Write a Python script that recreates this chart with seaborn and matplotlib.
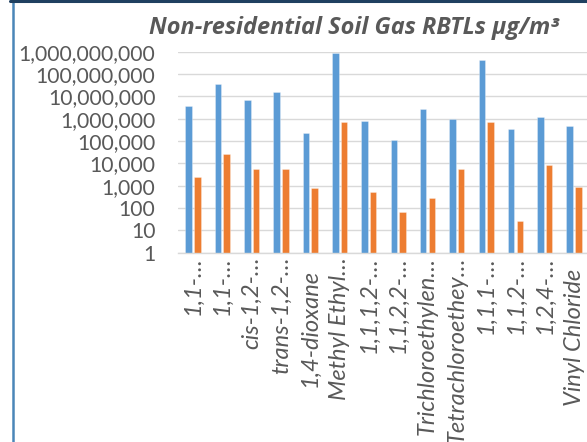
import numpy as np
import pandas as pd
import matplotlib
matplotlib.use("Agg")
import matplotlib.pyplot as plt
from matplotlib.ticker import FuncFormatter, FixedLocator, NullLocator
from matplotlib.lines import Line2D
from matplotlib.transforms import offset_copy
import seaborn as sns

# Chemical labels as shown on the category axis (long names are clipped with an ellipsis)
chemicals = [
    "1,1-…", "1,1-…", "cis-1,2-…", "trans-1,2-…", "1,4-dioxane",
    "Methyl Ethyl…", "1,1,1,2-…", "1,1,2,2-…", "Trichloroethylen…",
    "Tetrachloroethey…", "1,1,1-…", "1,1,2-…", "1,2,4-…", "Vinyl Chloride",
]
# Two RBTL series per chemical (µg/m³)
series_1 = [3.6e6, 3.5e7, 7.1e6, 1.5e7, 2.4e5, 8.5e8, 7.9e5,
            1.08e5, 2.6e6, 9.7e5, 4.3e8, 3.4e5, 1.2e6, 4.6e5]
series_2 = [2450, 27000, 5600, 5600, 790, 6.9e5, 520,
            67, 275, 5600, 6.9e5, 27, 8500, 910]
series_names = ["Series 1", "Series 2"]
palette = ["#5B9BD5", "#ED7D31"]
y_ticks = [10 ** k for k in range(0, 10)]

title_text = "Non-residential Soil Gas RBTLs μg/m³"

sns.set_style("white")
plt.rcParams["font.family"] = ["Lato", "DejaVu Sans"]

df = pd.DataFrame({
    "chemical_idx": list(range(len(chemicals))) * 2,
    "value": series_1 + series_2,
    "series": [series_names[0]] * len(chemicals) + [series_names[1]] * len(chemicals),
})

W, H = 587, 442
fig = plt.figure(figsize=(W / 100, H / 100), dpi=100)
ax = fig.add_axes([178.4 / W, 1 - 252.7 / H, 410.3 / W, 201.0 / H])
ax.set_yscale("log")

sns.barplot(
    data=df, x="chemical_idx", y="value", hue="series",
    hue_order=series_names, palette=palette, saturation=1,
    width=0.59, gap=0.25, legend=False, ax=ax,
    edgecolor=(1, 1, 1, 0.35), linewidth=0.6,
)

ax.set_ylim(1, 1e9)
ax.yaxis.set_major_locator(FixedLocator(y_ticks))
ax.yaxis.set_minor_locator(NullLocator())
ax.yaxis.set_major_formatter(FuncFormatter(lambda v, p: f"{v:,.0f}"))
ax.grid(axis="y", color="#D9D9D9", linewidth=1.0)
ax.set_axisbelow(True)

for side in ["top", "right", "left"]:
    ax.spines[side].set_visible(False)
ax.spines["bottom"].set_color("#D9D9D9")
ax.spines["bottom"].set_linewidth(1.0)

ax.set_xticks(range(len(chemicals)))
ax.set_xticklabels(chemicals, rotation=90, fontstyle="italic",
                   fontsize=17, color="#595959", ha="center", va="top")
ax.tick_params(axis="x", length=0, pad=3)
ax.tick_params(axis="y", length=0, pad=16.5, labelsize=15.2, labelcolor="#595959")
ax.set_xlabel("")
ax.set_ylabel("")
ax.set_xlim(-0.5, len(chemicals) - 0.5)

# Full (unclipped) names sit a little lower than the clipped ones
for tick in ax.xaxis.get_major_ticks():
    lbl = tick.label1
    if not lbl.get_text().endswith("…"):
        lbl.set_transform(offset_copy(lbl.get_transform(), fig=fig, x=0, y=-12, units="dots"))

fig.text(354 / W, 1 - 34 / H, title_text, ha="center", va="baseline",
         fontsize=16.9, fontweight="bold", fontstyle="italic", color="#595959",
         family=["Open Sans", "DejaVu Sans"])

# Frame around the chart area
fig.add_artist(Line2D([12.5 / W, 12.5 / W], [0, 1], transform=fig.transFigure,
                      color="#4A86B8", linewidth=1.8))
fig.add_artist(Line2D([10 / W, 1], [1 - 1.2 / H, 1 - 1.2 / H], transform=fig.transFigure,
                      color="#1F4060", linewidth=2.2))

fig.savefig("out.png", dpi=100)
